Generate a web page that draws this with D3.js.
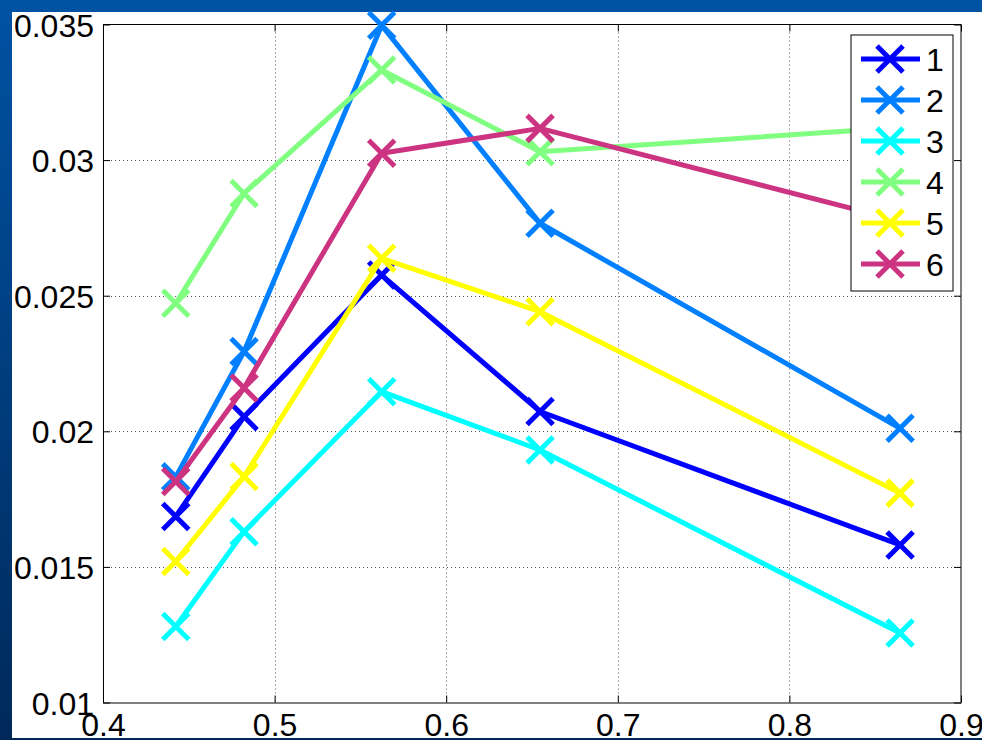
<!DOCTYPE html>
<html><head><meta charset="utf-8">
<script src="https://cdn.jsdelivr.net/npm/d3@7"></script>
<style>html,body{margin:0;padding:0;background:#fff;overflow:hidden}</style>
</head><body>
<svg id="c" width="982" height="740"></svg>
<script>
const xValues = [0.4424, 0.4822, 0.5624, 0.6547, 0.8645];
const seriesNames = ["1", "2", "3", "4", "5", "6"];
const series1 = [0.01686, 0.02054, 0.02576, 0.02073, 0.01581];
const series2 = [0.01832, 0.02294, 0.03497, 0.02767, 0.02011];
const series3 = [0.01280, 0.01630, 0.02146, 0.01931, 0.01256];
const series4 = [0.02472, 0.02877, 0.03332, 0.03031, 0.03120];
const series5 = [0.01520, 0.01833, 0.02638, 0.02441, 0.01772];
const series6 = [0.01815, 0.02160, 0.03025, 0.03117, 0.02776];
const seriesColors = ["#0000ff", "#0080ff", "#00ffff", "#80ff80", "#ffff00", "#cc3380"];
const xTicks = [0.4, 0.5, 0.6, 0.7, 0.8, 0.9];
const xTickLabels = ["0.4", "0.5", "0.6", "0.7", "0.8", "0.9"];
const yTicks = [0.01, 0.015, 0.02, 0.025, 0.03, 0.035];
const yTickLabels = ["0.01", "0.015", "0.02", "0.025", "0.03", "0.035"];

const allSeries = [series1, series2, series3, series4, series5, series6];
const svg = d3.select("#c");
const font = "'Liberation Sans', Arial, sans-serif";

// background (slide-like)
const defs = svg.append("defs");
const g1 = defs.append("linearGradient").attr("id","bg").attr("x1",0).attr("y1",0).attr("x2",0).attr("y2",1);
g1.append("stop").attr("offset","0%").attr("stop-color","#0052a3");
g1.append("stop").attr("offset","100%").attr("stop-color","#00295a");
svg.append("rect").attr("width",982).attr("height",740).attr("fill","url(#bg)");
svg.append("rect").attr("x",0).attr("y",0).attr("width",982).attr("height",12).attr("fill","#0052a3");
svg.append("rect").attr("x",12).attr("y",12).attr("width",970).attr("height",726).attr("fill","#ffffff");

const L = 103, R = 961, T = 24.5, B = 702.5;
const x = d3.scaleLinear().domain([0.4, 0.9]).range([L, R]);
const y = d3.scaleLinear().domain([0.01, 0.035]).range([B, T]);

// grid
const grid = svg.append("g");
grid.selectAll("line.gx").data(xTicks.slice(1, -1)).join("line")
  .attr("x1", d => Math.round(x(d)) + 0.5).attr("x2", d => Math.round(x(d)) + 0.5)
  .attr("y1", T).attr("y2", B)
  .attr("stroke", "#555").attr("stroke-width", 1).attr("stroke-dasharray", "1,3");
grid.selectAll("line.gy").data(yTicks.slice(1, -1)).join("line")
  .attr("y1", d => Math.round(y(d)) + 0.5).attr("y2", d => Math.round(y(d)) + 0.5)
  .attr("x1", L).attr("x2", R)
  .attr("stroke", "#555").attr("stroke-width", 1).attr("stroke-dasharray", "1,3");

// axes
const xAxis = d3.axisBottom(x).tickValues(xTicks).tickSizeInner(-7).tickSizeOuter(0)
  .tickFormat((d, i) => xTickLabels[i]);
const yAxis = d3.axisLeft(y).tickValues(yTicks).tickSizeInner(-7).tickSizeOuter(0)
  .tickFormat((d, i) => yTickLabels[i]);
const gx = svg.append("g").attr("transform", `translate(0,${B})`).call(xAxis);
const gy = svg.append("g").attr("transform", `translate(${L},0)`).call(yAxis);
[gx, gy].forEach(g => {
  g.select(".domain").attr("stroke", "#000");
  g.selectAll(".tick line").attr("stroke", "#000");
  g.selectAll("text").attr("font-family", font).attr("font-size", 32).attr("fill", "#000");
});
gx.selectAll("text").attr("dy", null).attr("y", 33);
gy.selectAll("text").attr("x", -9).attr("dy", "0.36em");
// top and right box lines
svg.append("line").attr("x1", L).attr("x2", R).attr("y1", T).attr("y2", T).attr("stroke", "#000");
svg.append("line").attr("x1", R).attr("x2", R).attr("y1", T).attr("y2", B).attr("stroke", "#000");
svg.append("g").attr("transform", `translate(0,${T})`)
  .call(d3.axisTop(x).tickValues(xTicks).tickSizeInner(-7).tickSizeOuter(0).tickFormat(""))
  .call(g => { g.select(".domain").remove(); g.selectAll("line").attr("stroke","#000"); });
svg.append("g").attr("transform", `translate(${R},0)`)
  .call(d3.axisRight(y).tickValues(yTicks).tickSizeInner(-7).tickSizeOuter(0).tickFormat(""))
  .call(g => { g.select(".domain").remove(); g.selectAll("line").attr("stroke","#000"); });

// series
const line = d3.line().x((d, i) => x(xValues[i])).y(d => y(d));
const M = 13;
function cross(g, cx, cy, color) {
  g.append("path").attr("d", `M${cx-M},${cy-M}L${cx+M},${cy+M}M${cx-M},${cy+M}L${cx+M},${cy-M}`)
    .attr("stroke", color).attr("stroke-width", 5).attr("fill", "none");
}
allSeries.forEach((s, k) => {
  const g = svg.append("g");
  g.append("path").attr("d", line(s)).attr("fill", "none")
    .attr("stroke", seriesColors[k]).attr("stroke-width", 5).attr("stroke-linejoin", "round");
  s.forEach((v, i) => cross(g, x(xValues[i]), y(v), seriesColors[k]));
});

// legend
const lg = svg.append("g");
lg.append("rect").attr("x", 851).attr("y", 35).attr("width", 102).attr("height", 256)
  .attr("fill", "#fff").attr("stroke", "#000").attr("stroke-width", 1);
seriesNames.forEach((n, k) => {
  const cy = 59 + k * 41;
  lg.append("line").attr("x1", 861).attr("x2", 920).attr("y1", cy).attr("y2", cy)
    .attr("stroke", seriesColors[k]).attr("stroke-width", 5);
  cross(lg, 890, cy, seriesColors[k]);
  lg.append("text").attr("x", 926).attr("y", cy).attr("dy", "0.36em")
    .attr("font-family", font).attr("font-size", 32).attr("fill", "#000").text(n);
});
</script>
</body></html>
